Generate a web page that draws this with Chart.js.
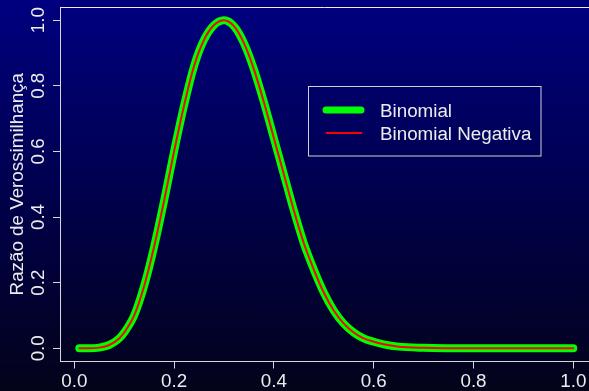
<!DOCTYPE html>
<html>
<head>
<meta charset="utf-8">
<script src="https://cdn.jsdelivr.net/npm/chart.js@4/dist/chart.umd.min.js"></script>
<style>
  html, body { margin: 0; padding: 0; }
  body {
    width: 589px; height: 391px; overflow: hidden;
    background: linear-gradient(to bottom, #000080 0%, #00004c 50%, #03031a 100%);
  }
  canvas { display: block; }
</style>
</head>
<body>
<canvas id="lrChart" width="589" height="391"></canvas>
<script>
// -----------------------------
// DATA
// -----------------------------
const pValues = [0.01, 0.03, 0.05, 0.07, 0.09, 0.10, 0.12, 0.14, 0.16, 0.18,
                 0.20, 0.22, 0.24, 0.26, 0.28, 0.30, 0.32, 0.34, 0.36, 0.38,
                 0.40, 0.42, 0.44, 0.46, 0.48, 0.50, 0.52, 0.54, 0.56, 0.58,
                 0.60, 0.62, 0.65, 0.70, 0.75, 0.80, 0.90, 1.00];
const binomialLR = [0.000, 0.000, 0.002, 0.010, 0.030, 0.048, 0.100, 0.190, 0.310, 0.450,
                    0.600, 0.740, 0.860, 0.940, 0.985, 1.000, 0.982, 0.930, 0.850, 0.750,
                    0.640, 0.530, 0.420, 0.320, 0.240, 0.170, 0.115, 0.075, 0.048, 0.030,
                    0.020, 0.012, 0.005, 0.0015, 0.0003, 0.000, 0.000, 0.000];
const negBinomialLR = binomialLR.slice();
const seriesLabels = ["Binomial", "Binomial Negativa"];
const xTicks = [0.0, 0.2, 0.4, 0.6, 0.8, 1.0];
const yTicks = [0.0, 0.2, 0.4, 0.6, 0.8, 1.0];
const yTitle = "Razão de Verossimilhança";

const FONT = '18.8px "Liberation Sans", Arial, Helvetica, sans-serif';
const FG = '#d8d8d8';

function toPoints(xs, ys) {
    return xs.map((x, i) => ({ x: x, y: ys[i] }));
}

// -----------------------------
// PLUGIN: R-style labels, top frame line, legend box
// -----------------------------
const rStylePlugin = {
    id: 'rStyle',
    afterDraw(chart) {
        const ctx = chart.ctx;
        const xs = chart.scales.x, ys = chart.scales.y;
        const area = chart.chartArea;
        ctx.save();

        // top frame line
        ctx.strokeStyle = '#eeeeee';
        ctx.lineWidth = 1;
        ctx.beginPath();
        ctx.moveTo(area.left, area.top + 0.5);
        ctx.lineTo(chart.width, area.top + 0.5);
        ctx.stroke();

        ctx.font = FONT;
        ctx.fillStyle = '#ececec';

        // x tick labels
        ctx.textAlign = 'center';
        ctx.textBaseline = 'alphabetic';
        xs.ticks.forEach(t => {
            ctx.fillText(t.value.toFixed(1), xs.getPixelForValue(t.value), 387);
        });

        // y tick labels (parallel to axis)
        ys.ticks.forEach(t => {
            ctx.save();
            ctx.translate(43.5, ys.getPixelForValue(t.value));
            ctx.rotate(-Math.PI / 2);
            ctx.fillText(t.value.toFixed(1), 0, 0);
            ctx.restore();
        });

        // y title
        ctx.save();
        ctx.translate(23, (area.top + area.bottom) / 2);
        ctx.rotate(-Math.PI / 2);
        ctx.fillText(yTitle, 0, 0);
        ctx.restore();

        // legend
        const lx = 308.5, ly = 86.5, lw = 232.5, lh = 69.5;
        ctx.strokeStyle = '#d0d0d0';
        ctx.lineWidth = 1;
        ctx.strokeRect(lx, ly, lw, lh);
        const ds = chart.data.datasets;
        const rows = [116.5, 139.5];
        const mids = [110, 133];
        ds.forEach((d, i) => {
            ctx.strokeStyle = d.borderColor;
            ctx.lineWidth = d.legendWidth;
            ctx.lineCap = d.legendCap;
            ctx.beginPath();
            ctx.moveTo(326, mids[i]);
            ctx.lineTo(d.legendCap === 'round' ? 361 : 362, mids[i]);
            ctx.stroke();
            ctx.textAlign = 'left';
            ctx.fillStyle = '#ececec';
            ctx.fillText(d.label, 380, rows[i]);
        });
        ctx.restore();
    }
};

// -----------------------------
// RENDER
// -----------------------------
function axisOptions(min, max, tickValues, fit) {
    return {
        type: 'linear',
        min: min,
        max: max,
        afterBuildTicks: scale => { scale.ticks = tickValues.map(v => ({ value: v })); },
        afterFit: fit,
        ticks: { display: false },
        grid: { drawOnChartArea: false, drawTicks: true, tickLength: 7, color: FG, lineWidth: 1 },
        border: { display: true, color: FG, width: 1 }
    };
}

new Chart(document.getElementById('lrChart'), {
    type: 'line',
    data: {
        datasets: [
            {
                label: seriesLabels[0],
                data: toPoints(pValues, binomialLR),
                borderColor: '#00ff00',
                borderWidth: 8,
                legendWidth: 7,
                legendCap: 'round',
                order: 2
            },
            {
                label: seriesLabels[1],
                data: toPoints(pValues, negBinomialLR),
                borderColor: '#ff0000',
                borderWidth: 2,
                legendWidth: 2,
                legendCap: 'butt',
                order: 1
            }
        ]
    },
    options: {
        responsive: false,
        animation: false,
        layout: { padding: { top: 7, left: 0, right: 0, bottom: 0 } },
        elements: {
            point: { radius: 0 },
            line: { cubicInterpolationMode: 'monotone', borderCapStyle: 'round', borderJoinStyle: 'round', fill: false }
        },
        plugins: {
            legend: { display: false },
            tooltip: { enabled: false }
        },
        scales: {
            x: axisOptions(-0.02866, 1.0315, xTicks, s => { s.height = 29.5; }),
            y: axisOptions(-0.0403, 1.04, yTicks, s => { s.width = 60; })
        }
    },
    plugins: [rStylePlugin]
});
</script>
</body>
</html>
